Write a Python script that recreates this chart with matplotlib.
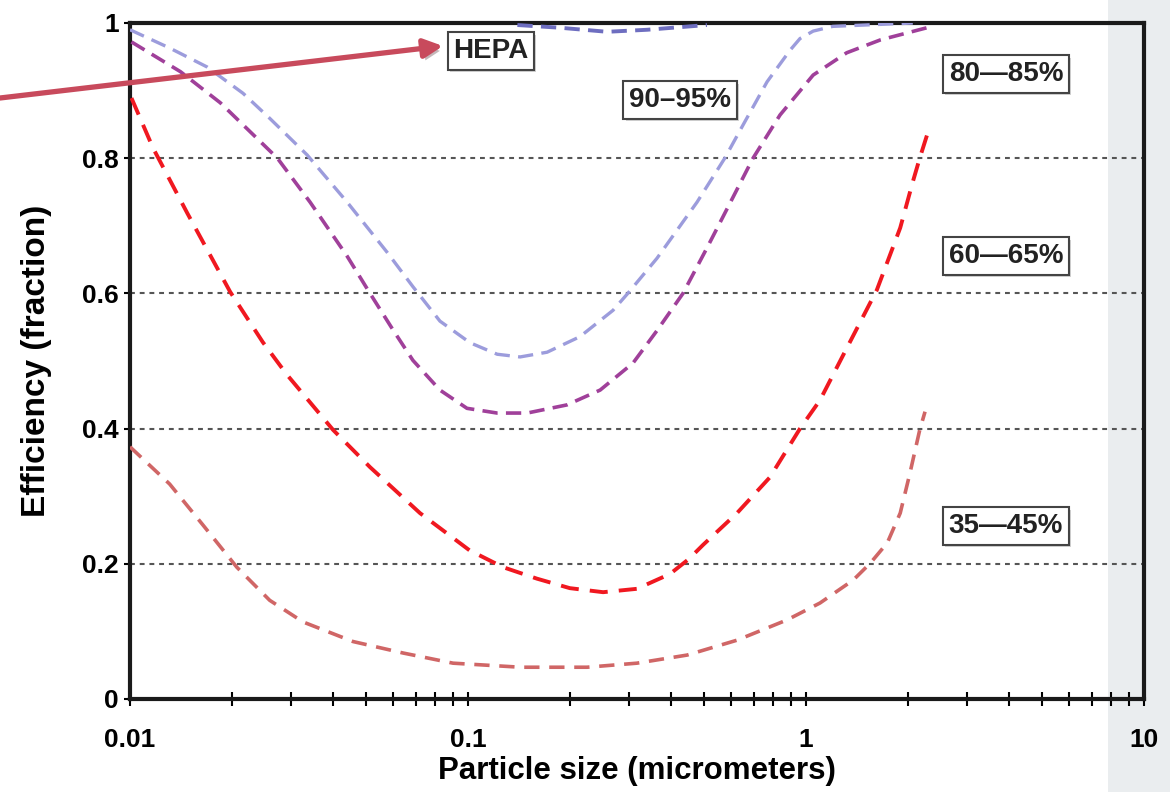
import numpy as np
import matplotlib
matplotlib.use("Agg")
import matplotlib.pyplot as plt
import matplotlib.patheffects as pe
from matplotlib.patches import Rectangle

plt.rcParams['font.family'] = ['Liberation Sans', 'DejaVu Sans']
plt.rcParams['font.weight'] = 'bold'
plt.rcParams['lines.scale_dashes'] = False

# particle size (micrometers) / efficiency (fraction)
hepa_x = [0.14, 0.187, 0.258, 0.339, 0.509]
hepa_y = [0.997, 0.993, 0.987, 0.990, 0.997]

f90_x = [0.01, 0.0131, 0.0169, 0.0216, 0.0259, 0.0334, 0.0439, 0.0576, 0.0687, 0.0826,
         0.1014, 0.122, 0.1426, 0.1714, 0.2144, 0.2686, 0.297, 0.3624, 0.476, 0.575,
         0.651, 0.767, 0.898, 0.96, 1.05, 1.2, 2.07]
f90_y = [0.990, 0.963, 0.935, 0.896, 0.859, 0.805, 0.735, 0.661, 0.610, 0.559,
         0.527, 0.510, 0.506, 0.513, 0.536, 0.575, 0.600, 0.652, 0.735, 0.800,
         0.849, 0.913, 0.960, 0.977, 0.988, 0.995, 1.0]

f80_x = [0.0101, 0.0141, 0.0185, 0.0273, 0.0341, 0.0439, 0.0513, 0.06, 0.0687, 0.0826,
         0.0993, 0.122, 0.1496, 0.196, 0.246, 0.3078, 0.3624, 0.4325, 0.509, 0.557,
         0.697, 0.838, 1.05, 1.32, 1.66, 2.28]
f80_y = [0.972, 0.928, 0.882, 0.800, 0.735, 0.655, 0.600, 0.546, 0.501, 0.457,
         0.430, 0.423, 0.423, 0.435, 0.457, 0.497, 0.545, 0.600, 0.667, 0.705,
         0.800, 0.864, 0.923, 0.956, 0.975, 0.993]

f60_x = [0.0101, 0.0117, 0.0148, 0.0198, 0.0247, 0.0291, 0.0399, 0.0513, 0.0721, 0.101,
         0.127, 0.160, 0.200, 0.251, 0.316, 0.396, 0.45, 0.496, 0.625, 0.782, 0.960,
         1.10, 1.32, 1.62, 1.90, 2.07, 2.17, 2.28]
f60_y = [0.889, 0.815, 0.718, 0.602, 0.528, 0.480, 0.398, 0.343, 0.275, 0.220,
         0.195, 0.178, 0.164, 0.158, 0.163, 0.185, 0.207, 0.228, 0.275, 0.328, 0.400,
         0.442, 0.519, 0.605, 0.697, 0.765, 0.800, 0.834]

f35_x = [0.01, 0.0131, 0.0164, 0.0207, 0.0259, 0.0325, 0.0457, 0.0643, 0.0903, 0.143,
         0.225, 0.316, 0.445, 0.625, 0.879, 1.10, 1.38, 1.55, 1.74, 1.90, 2.03, 2.17, 2.25]
f35_y = [0.373, 0.318, 0.258, 0.195, 0.146, 0.114, 0.085, 0.068, 0.053, 0.047,
         0.047, 0.053, 0.065, 0.087, 0.117, 0.142, 0.176, 0.201, 0.231, 0.275, 0.334,
         0.398, 0.425]

y_grid = [0.2, 0.4, 0.6, 0.8]
y_ticks = [0, 0.2, 0.4, 0.6, 0.8, 1]
y_ticklabels = ['0', '0.2', '0.4', '0.6', '0.8', '1']
x_ticks = [0.01, 0.1, 1, 10]
x_ticklabels = ['0.01', '0.1', '1', '10']

W, H = 1170, 792
fig = plt.figure(figsize=(W / 100, H / 100), dpi=100)
fig.patch.set_facecolor('white')
# grey strip on the right edge of the page
fig.patches.append(Rectangle((1108 / W, 0), 1 - 1108 / W, 1, transform=fig.transFigure,
                             facecolor='#eaedef', edgecolor='none', zorder=-1))

ax = fig.add_axes([130 / W, (H - 699) / H, 1014 / W, 676 / H])
ax.set_facecolor('none')
ax.set_xscale('log')
ax.set_xlim(0.01, 10)
ax.set_ylim(0, 1)

for g in y_grid:
    ax.axhline(g, color='#555555', lw=1.5, dashes=(3.5, 3.5), zorder=1)

ax.plot(f35_x, f35_y, color='#d06666', lw=2.6, dashes=(11, 7), zorder=3)
ax.plot(f60_x, f60_y, color='#f01820', lw=2.8, dashes=(13, 8), zorder=3)
ax.plot(f80_x, f80_y, color='#a0409a', lw=2.6, dashes=(11, 6), zorder=3)
ax.plot(f90_x, f90_y, color='#9c9cdc', lw=2.4, dashes=(11, 6), zorder=3)
ax.plot(hepa_x, hepa_y, color='#6e6ec0', lw=2.8, dashes=(11, 6), zorder=3)

for s in ax.spines.values():
    s.set_linewidth(3)
    s.set_color('#1a1a1a')

ax.set_yticks(y_ticks)
ax.set_yticklabels(y_ticklabels)
ax.set_xticks(x_ticks)
ax.set_xticklabels(x_ticklabels)
ax.xaxis.set_minor_formatter(matplotlib.ticker.NullFormatter())
ax.tick_params(axis='y', direction='out', length=4, width=1.5, pad=4, labelsize=19)
ax.tick_params(axis='x', which='both', direction='inout', length=10, width=1.5,
               pad=16, labelsize=19)

ax.set_xlabel('Particle size (micrometers)', fontsize=22.5, fontweight='bold')
ax.xaxis.set_label_coords(0.5, -0.085)
ax.set_ylabel('Efficiency (fraction)', fontsize=24, fontweight='bold', labelpad=22)

box = dict(boxstyle='square,pad=0.2', facecolor='white', edgecolor='#444444', lw=1.5)
labels = [('HEPA', 491, 51), ('90–95%', 680, 100), ('80—85%', 1006, 74),
          ('60—65%', 1006, 256), ('35—45%', 1006, 526)]
for txt, px, py in labels:
    t = fig.text(px / W, 1 - py / H, txt, ha='center', va='center', fontsize=20,
                 color='#222222', bbox=box, zorder=5)
    t.get_bbox_patch().set_path_effects([pe.withSimplePatchShadow(offset=(1.5, -1.5),
                                                                  alpha=0.25)])

ann = ax.annotate('', xy=(443 / W, 1 - 46 / H), xycoords='figure fraction',
                  xytext=(0, 1 - 98 / H), textcoords='figure fraction',
                  arrowprops=dict(arrowstyle='-|>', color='#c84a5c', lw=3.8,
                                  mutation_scale=28, shrinkA=0, shrinkB=0),
                  annotation_clip=False, zorder=6)
ann.arrow_patch.set_path_effects([pe.withSimplePatchShadow(offset=(2, -3), alpha=0.3)])

fig.savefig('out.png', dpi=100)
